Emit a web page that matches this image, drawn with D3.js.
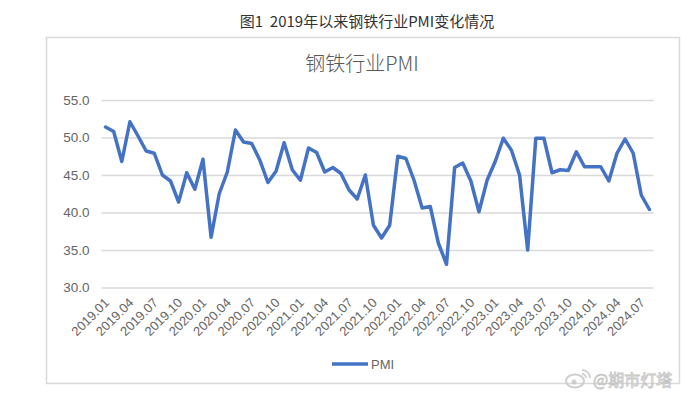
<!DOCTYPE html>
<html>
<head>
<meta charset="utf-8">
<script src="https://cdn.jsdelivr.net/npm/d3@7"></script>
<style>
  body { margin: 0; background: #fff; }
  svg { display: block; }
</style>
</head>
<body>
<svg id="chart"></svg>
<script>
var width = 690;
var height = 394;

// monthly categories 2019.01 .. 2024.08
var months = [];
for (var yr = 2019; yr <= 2024; yr++) {
    for (var m = 1; m <= 12; m++) {
        if (yr == 2024 && m > 8) break;
        months.push(yr + "." + (m < 10 ? "0" + m : m));
    }
}

var pmi = [
    51.4, 50.8, 46.8, 52.1, 50.2, 48.2, 47.9, 45.0, 44.2, 41.4, 45.3, 43.1,
    47.1, 36.7, 42.5, 45.4, 51.0, 49.4, 49.2, 47.0, 44.0, 45.5, 49.3, 45.7,
    44.3, 48.6, 48.0, 45.4, 46.0, 45.2, 43.0, 41.8, 45.0, 38.3, 36.6, 38.3,
    47.5, 47.2, 44.3, 40.6, 40.8, 35.9, 33.1, 46.0, 46.6, 44.2, 40.1, 44.3,
    46.8, 49.9, 48.3, 45.0, 35.0, 49.9, 49.9, 45.3, 45.7, 45.6, 48.1, 46.1,
    46.1, 46.1, 44.2, 47.9, 49.8, 47.9, 42.3, 40.4
];

var yTicks = [30, 35, 40, 45, 50, 55];
var seriesName = "PMI";

var svg = d3.select("#chart")
    .attr("width", width)
    .attr("height", height);

// figure caption
svg.append("text")
    .attr("x", 367)
    .attr("y", 27)
    .attr("text-anchor", "middle")
    .attr("font-family", "'Noto Sans CJK SC', 'Liberation Sans', sans-serif")
    .attr("font-size", 15)
    .attr("fill", "#333")
    .attr("xml:space", "preserve")
    .text("图1  2019年以来钢铁行业PMI变化情况");

// chart frame
svg.append("rect")
    .attr("x", 46.5)
    .attr("y", 37.5)
    .attr("width", 633)
    .attr("height", 346)
    .attr("fill", "#fff")
    .attr("stroke", "#d9d9d9")
    .attr("stroke-width", 1.5);

svg.append("text")
    .attr("x", 362)
    .attr("y", 71)
    .attr("text-anchor", "middle")
    .attr("font-family", "'Noto Sans CJK SC', 'Liberation Sans', sans-serif")
    .attr("font-size", 20)
    .attr("font-weight", 300)
    .attr("fill", "#595959")
    .text("钢铁行业PMI");

var x = d3.scalePoint()
    .domain(months)
    .range([101.5, 653.5])
    .padding(0.5);

var y = d3.scaleLinear()
    .domain([30, 55])
    .range([287.5, 100]);

// gridlines + y labels
var yAxis = d3.axisLeft(y)
    .tickValues(yTicks)
    .tickSize(-(653.5 - 101.5))
    .tickPadding(12)
    .tickFormat(d3.format(".1f"));

var gy = svg.append("g")
    .attr("transform", "translate(101.5,0)")
    .call(yAxis);
gy.select(".domain").remove();
gy.selectAll(".tick line")
    .attr("stroke", "#d9d9d9")
    .attr("stroke-width", 1.5);
gy.selectAll(".tick text")
    .attr("font-family", "'Liberation Sans', Arial, sans-serif")
    .attr("font-size", 13.5)
    .attr("fill", "#666");

// x labels, every third month, rotated
var xAxis = d3.axisBottom(x)
    .tickValues(months.filter(function(d, i) { return i % 3 == 0; }))
    .tickSize(0)
    .tickPadding(0);

var gx = svg.append("g")
    .attr("transform", "translate(0,287.5)")
    .call(xAxis);
gx.select(".domain").remove();
gx.selectAll(".tick text")
    .attr("font-family", "'Liberation Sans', Arial, sans-serif")
    .attr("font-size", 13)
    .attr("fill", "#666")
    .attr("text-anchor", "end")
    .attr("dy", 0)
    .attr("transform", "translate(4,16) rotate(-45)");

// the series
var line = d3.line()
    .x(function(d, i) { return x(months[i]); })
    .y(function(d) { return y(d); });

svg.append("path")
    .datum(pmi)
    .attr("d", line)
    .attr("fill", "none")
    .attr("stroke", "#4472c4")
    .attr("stroke-width", 3.5)
    .attr("stroke-linejoin", "round")
    .attr("stroke-linecap", "round");

// legend
svg.append("line")
    .attr("x1", 332).attr("x2", 368)
    .attr("y1", 364).attr("y2", 364)
    .attr("stroke", "#4472c4")
    .attr("stroke-width", 3.5);
svg.append("text")
    .attr("x", 371)
    .attr("y", 369)
    .attr("font-family", "'Liberation Sans', Arial, sans-serif")
    .attr("font-size", 13)
    .attr("fill", "#666")
    .text(seriesName);

// watermark
var wm = svg.append("g").attr("opacity", 0.85);
wm.append("ellipse")
    .attr("cx", 575).attr("cy", 381)
    .attr("rx", 9).attr("ry", 6.5)
    .attr("fill", "none")
    .attr("stroke", "#c8c8c8")
    .attr("stroke-width", 2);
wm.append("circle")
    .attr("cx", 574).attr("cy", 382)
    .attr("r", 2.5)
    .attr("fill", "#c8c8c8");
wm.append("path")
    .attr("d", "M582,370 a8,8 0 0 1 8,8 M582,374 a4,4 0 0 1 4,4")
    .attr("fill", "none")
    .attr("stroke", "#c8c8c8")
    .attr("stroke-width", 1.8);
wm.append("text")
    .attr("x", 593)
    .attr("y", 386)
    .attr("font-family", "'Noto Sans CJK SC', sans-serif")
    .attr("font-size", 16)
    .attr("fill", "#eeeeee")
    .attr("stroke", "#bdbdbd")
    .attr("stroke-width", 0.8)
    .text("@期市灯塔");
</script>
</body>
</html>
